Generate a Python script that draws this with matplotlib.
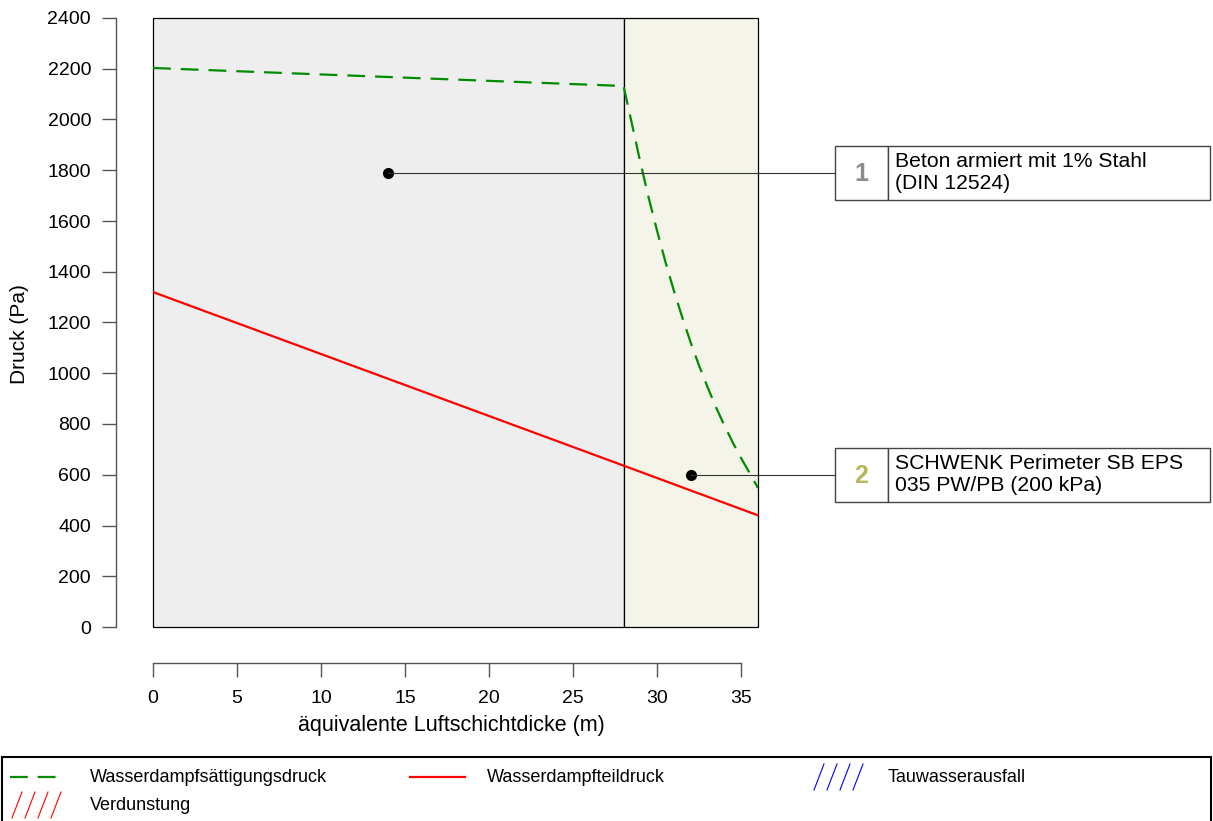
import numpy as np
import matplotlib
matplotlib.use("Agg")
import matplotlib.pyplot as plt
from matplotlib.patches import Rectangle
from matplotlib.lines import Line2D

plt.rcParams['font.family'] = ['Liberation Sans', 'DejaVu Sans']

W, H = 1213, 821

########### data ###########

# layer boundaries (equivalent air layer thickness sd, m)
layer_edges = [0, 28, 36]
layer_colors = ['#EEEEEE', '#F4F4E8']
layer_numbers = ['1', '2']
layer_num_colors = ['#8C8C8C', '#B6B65C']
layer_names = ['Beton armiert mit 1% Stahl\n(DIN 12524)',
               'SCHWENK Perimeter SB EPS\n035 PW/PB (200 kPa)']
label_anchor_x = [14, 32]
label_anchor_y = [1790, 600]

# saturation vapour pressure (Pa)
sat_x = [0, 28, 28.5, 29, 29.5, 30, 30.5, 31, 31.5, 32, 32.5, 33, 33.5,
         34, 34.5, 35, 35.5, 36]
sat_p = [2203, 2132, 1982, 1831, 1690, 1560, 1437, 1324, 1219, 1120, 1029,
         945, 866, 794, 727, 665, 607, 548]

# partial vapour pressure (Pa)
part_x = [0, 28, 36]
part_p = [1320, 636, 440]

x_ticks = [0, 5, 10, 15, 20, 25, 30, 35]
y_ticks = list(range(0, 2401, 200))

legend_labels = ['Wasserdampfsättigungsdruck', 'Wasserdampfteildruck',
                 'Tauwasserausfall', 'Verdunstung']

green = '#008B00'
red = '#FF0000'
blue = '#0000FF'
axis_gray = '#555555'

#############################


def fx(px):
    return px / W


def fy(py):
    return 1 - py / H


fig = plt.figure(figsize=(W / 100, H / 100), dpi=100)
ax = fig.add_axes([fx(153), fy(627), (758 - 153) / W, (627 - 18) / H])
ax.set_xlim(0, 36)
ax.set_ylim(0, 2400)

# layer background
for i in range(len(layer_colors)):
    x0, x1 = layer_edges[i], layer_edges[i + 1]
    ax.add_patch(Rectangle((x0, 0), x1 - x0, 2400, facecolor=layer_colors[i],
                           edgecolor='black', lw=0.9, zorder=1, clip_on=False))

ax.plot(sat_x, sat_p, color=green, lw=1.6, dashes=(8, 4.5), zorder=3)
ax.plot(part_x, part_p, color=red, lw=1.6, zorder=3)

# axes style
for s in ['top', 'right']:
    ax.spines[s].set_visible(False)
ax.spines['left'].set_position(('outward', 26.6))
ax.spines['bottom'].set_position(('outward', 26))
ax.spines['left'].set_bounds(0, 2400)
ax.spines['bottom'].set_bounds(0, 35)
for s in ['left', 'bottom']:
    ax.spines[s].set_color(axis_gray)
    ax.spines[s].set_linewidth(1.0)
ax.set_xticks(x_ticks)
ax.set_yticks(y_ticks)
ax.tick_params(axis='both', length=10, width=1.0, color=axis_gray,
               labelsize=14, labelcolor='black')
ax.tick_params(axis='y', pad=8)
ax.tick_params(axis='x', pad=9)

fig.text(fx(20), fy(334), 'Druck (Pa)', rotation=90, ha='center',
         va='center', fontsize=15)
fig.text(fx(451), fy(725), 'äquivalente Luftschichtdicke (m)', ha='center',
         va='center', fontsize=15.5)

# layer labels with leader line and box
box_left, box_mid, box_right = 835, 888, 1210
box_half = 27
for i in range(len(layer_names)):
    px, py = ax.transData.transform((label_anchor_x[i], label_anchor_y[i]))
    py = H - py
    ax.plot(label_anchor_x[i], label_anchor_y[i], 'o', color='black',
            ms=7, zorder=5)
    fig.add_artist(Line2D([fx(px), fx(box_left)], [fy(py), fy(py)],
                          color='#333333', lw=0.8))
    for a, b in [(box_left, box_mid), (box_mid, box_right)]:
        fig.add_artist(Rectangle((fx(a), fy(py + box_half)), (b - a) / W,
                                 2 * box_half / H, facecolor='white',
                                 edgecolor='#444444', lw=1.0))
    fig.text(fx((box_left + box_mid) / 2), fy(py + 1), layer_numbers[i],
             ha='center', va='center', fontsize=18, fontweight='bold',
             color=layer_num_colors[i])
    fig.text(fx(895), fy(py), layer_names[i], ha='left', va='center',
             fontsize=15.2, linespacing=1.2)

# legend
fig.add_artist(Rectangle((fx(2), fy(840)), 1209 / W, (840 - 757) / H,
                         facecolor='none', edgecolor='black', lw=1.5))
fig.add_artist(Line2D([fx(10), fx(65)], [fy(777), fy(777)], color=green,
                      lw=1.6, dashes=(8, 4.5)))
fig.add_artist(Line2D([fx(410), fx(465)], [fy(777), fy(777)], color=red,
                      lw=1.6))


def hatch(x0, yc, color):
    for k in range(4):
        xs = x0 + 4 + k * 13
        fig.add_artist(Line2D([fx(xs), fx(xs + 10)], [fy(yc + 13), fy(yc - 13)],
                              color=color, lw=0.8))


hatch(810, 777, blue)
hatch(8, 805, red)

fig.text(fx(90), fy(777), legend_labels[0], va='center', fontsize=13)
fig.text(fx(487), fy(777), legend_labels[1], va='center', fontsize=13)
fig.text(fx(888), fy(777), legend_labels[2], va='center', fontsize=13)
fig.text(fx(90), fy(805), legend_labels[3], va='center', fontsize=13)

fig.savefig('out.png', dpi=100)
